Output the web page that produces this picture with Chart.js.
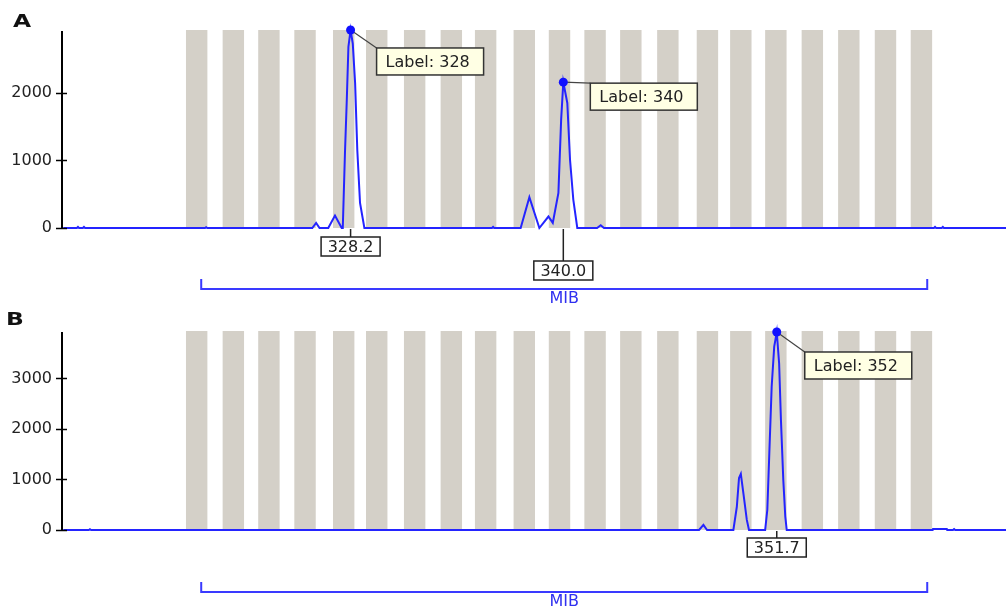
<!DOCTYPE html>
<html>
<head>
<meta charset="utf-8">
<script src="https://cdn.jsdelivr.net/npm/chart.js@4.4.0/dist/chart.umd.min.js"></script>
<style>
html, body { margin: 0; padding: 0; background: #fff; }
#wrap { position: relative; width: 1006px; height: 610px; overflow: hidden; }
.panel { position: absolute; left: 0; width: 1006px; height: 305px; }
</style>
</head>
<body>
<div id="wrap">
	<div class="panel" style="top:0"><canvas id="panel-a" width="1006" height="305"></canvas></div>
	<div class="panel" style="top:305px"><canvas id="panel-b" width="1006" height="305"></canvas></div>
</div>
<script>
// size window shown (bp)
const bpMin = 312.33;
const bpMax = 364.34;

// allelic bins of the marker (bin centres, bp)
const binCenters = [319.75, 321.77, 323.73, 325.72, 327.85, 329.67, 331.76, 333.78, 335.67, 337.80,
	339.74, 341.70, 343.67, 345.71, 347.89, 349.73, 351.66, 353.67, 355.68, 357.70, 359.68];
const binWidth = 1.18;
const markerName = 'MIB';
const markerRange = [320, 360];

// sample A electropherogram trace (bp, RFU)
const traceAx = [312.40, 313.15, 313.21, 313.27, 313.48, 313.54, 313.60, 320.21, 320.27, 320.33,
	326.12, 326.33, 326.52, 327.00, 327.37, 327.74, 327.80, 327.92, 328.02, 328.11, 328.23, 328.35,
	328.48, 328.60, 328.75, 328.99, 336.02, 336.08, 336.14, 337.60, 338.08, 338.63, 339.13, 339.37,
	339.68, 339.83, 339.95, 340.17, 340.32, 340.50, 340.72, 341.81, 342.01, 342.19, 360.37, 360.43,
	360.49, 360.80, 360.86, 360.92, 364.34];
const traceAy = [0, 0, 15, 0, 0, 15, 0, 0, 12, 0,
	0, 75, 0, 0, 185, 0, 0, 1110, 1890, 2680, 2930, 2730,
	2140, 1150, 370, 0, 0, 15, 0, 0, 457, 0, 170, 75,
	520, 1600, 2158, 1850, 1010, 420, 0, 0, 40, 0, 0, 15,
	0, 0, 15, 0, 0];

// sample B electropherogram trace (bp, RFU)
const traceBx = [312.40, 313.81, 313.87, 313.93, 347.43, 347.67, 347.87, 349.32, 349.51, 349.63,
	349.73, 349.87, 350.06, 350.18, 351.07, 351.19, 351.30, 351.43, 351.57, 351.71, 351.84, 351.94,
	352.07, 352.18, 352.26, 360.30, 360.32, 361.08, 361.10, 361.42, 361.48, 361.54, 364.34];
const traceBy = [0, 0, 15, 0, 0, 100, 0, 0, 460, 1030,
	1110, 730, 200, 0, 0, 400, 1520, 2840, 3630, 3920, 3300, 2180,
	990, 265, 0, 0, 20, 20, 0, 0, 20, 0, 0];

// called alleles and sizes
const allelesA = [328, 340];
const sizesA = ['328.2', '340.0'];
const allelesB = [352];
const sizesB = ['351.7'];

// y tick labels
const yTicksA = [0, 1000, 2000];
const yTicksB = [0, 1000, 2000, 3000];

const FONT = 'DejaVu Sans';

function findPeak(xs, ys, size) {
	let best = -1;
	xs.forEach((v, i) => {
		if (Math.abs(v - size) < 0.5 && (best < 0 || ys[i] > ys[best])) best = i;
	});
	return best;
}

const fragmentPlugin = {
	id: 'fragment',
	beforeDatasetsDraw(chart) {
		const { ctx, chartArea: a, scales: { x } } = chart;
		ctx.save();
		ctx.fillStyle = '#d4d0c8';
		binCenters.forEach(c => {
			const l = x.getPixelForValue(c - binWidth / 2);
			const r = x.getPixelForValue(c + binWidth / 2);
			ctx.fillRect(l, a.top - 2, r - l, a.bottom - a.top + 2);
		});
		ctx.restore();
	},
	afterDraw(chart, args, opts) {
		const { ctx, chartArea: a, scales: { x, y } } = chart;
		ctx.save();

		// tick marks crossing the axis
		ctx.strokeStyle = '#000';
		ctx.lineWidth = 1.5;
		y.ticks.forEach(t => {
			const py = Math.round(y.getPixelForValue(t.value)) + 0.5;
			ctx.beginPath();
			ctx.moveTo(a.left - 6, py);
			ctx.lineTo(a.left + 5, py);
			ctx.stroke();
		});

		// marker bracket
		const bx0 = x.getPixelForValue(markerRange[0]);
		const bx1 = x.getPixelForValue(markerRange[1]);
		const by = a.bottom + opts.bracketDrop;
		ctx.strokeStyle = '#3a3aff';
		ctx.lineWidth = 2;
		ctx.beginPath();
		ctx.moveTo(bx0, by - 10);
		ctx.lineTo(bx0, by);
		ctx.lineTo(bx1, by);
		ctx.lineTo(bx1, by - 10);
		ctx.stroke();
		ctx.fillStyle = '#3030f0';
		ctx.font = '16px ' + FONT;
		ctx.textAlign = 'center';
		ctx.textBaseline = 'middle';
		ctx.fillText(markerName, (bx0 + bx1) / 2, by + 10);

		const ds = chart.data.datasets[0].data;
		const xs = ds.map(p => p.x), ys = ds.map(p => p.y);

		opts.alleles.forEach((allele, i) => {
			const size = parseFloat(opts.sizes[i]);
			const k = findPeak(xs, ys, size);
			const px = x.getPixelForValue(xs[k]);
			const py = y.getPixelForValue(ys[k]);
			const c = opts.callouts[i];

			// size box below the baseline
			ctx.font = '16px ' + FONT;
			ctx.textAlign = 'center';
			ctx.textBaseline = 'middle';
			const sw = 59, sh = 19;
			const sy = a.bottom + c.sizeDrop;
			ctx.strokeStyle = '#222';
			ctx.lineWidth = 1.5;
			ctx.beginPath();
			ctx.moveTo(px, a.bottom + 1);
			ctx.lineTo(px, sy);
			ctx.stroke();
			ctx.fillStyle = '#fff';
			ctx.fillRect(px - sw / 2, sy, sw, sh);
			ctx.strokeRect(px - sw / 2, sy, sw, sh);
			ctx.fillStyle = '#222';
			ctx.fillText(opts.sizes[i], px, sy + sh / 2 + 1);

			// allele label callout
			const lx = px + c.dx, ly = py + c.dy;
			const lw = 107, lh = 27;
			ctx.strokeStyle = '#444';
			ctx.lineWidth = 1.2;
			ctx.beginPath();
			ctx.moveTo(px, py);
			ctx.lineTo(lx, ly);
			ctx.stroke();
			ctx.fillStyle = '#ffffe4';
			ctx.fillRect(lx, ly, lw, lh);
			ctx.strokeStyle = '#333';
			ctx.lineWidth = 1.5;
			ctx.strokeRect(lx, ly, lw, lh);
			ctx.fillStyle = '#222';
			ctx.textAlign = 'left';
			ctx.fillText('Label: ' + allele, lx + 9, ly + lh / 2 + 1);

			// peak marker
			ctx.fillStyle = '#1010ff';
			ctx.beginPath();
			ctx.arc(px, py, 4.5, 0, Math.PI * 2);
			ctx.fill();
		});

		// panel letter
		ctx.fillStyle = '#111';
		ctx.font = 'bold 18px ' + FONT;
		ctx.textAlign = 'left';
		ctx.textBaseline = 'alphabetic';
		ctx.translate(opts.letterX, opts.letterY);
		ctx.scale(1.3, 1);
		ctx.fillText(opts.letter, 0, 0);
		ctx.restore();
	}
};

function makePanel(id, xs, ys, yMax, yTicks, padding, fragOpts) {
	const el = document.getElementById(id);
	return new Chart(el, {
		type: 'line',
		data: {
			datasets: [{
				data: xs.map((v, i) => ({ x: v, y: ys[i] })),
				borderColor: '#2424ff',
				borderWidth: 2,
				pointRadius: 0,
				tension: 0,
				fill: false,
				clip: false
			}]
		},
		options: {
			responsive: false,
			animation: false,
			devicePixelRatio: 1,
			layout: { padding: padding },
			plugins: {
				legend: { display: false },
				tooltip: { enabled: false },
				fragment: fragOpts
			},
			scales: {
				x: { type: 'linear', min: bpMin, max: bpMax, display: false },
				y: {
					min: 0,
					max: yMax,
					afterFit: s => { s.width = 62; },
					afterBuildTicks: s => { s.ticks = yTicks.map(v => ({ value: v })); },
					grid: { drawOnChartArea: false, drawTicks: false },
					border: { color: '#000', width: 2 },
					ticks: {
						padding: 10,
						color: '#222',
						font: { family: FONT, size: 16 },
						callback: v => String(v)
					}
				}
			}
		},
		plugins: [fragmentPlugin]
	});
}

makePanel('panel-a', traceAx, traceAy, 2900, yTicksA,
	{ top: 32, bottom: 77, left: 0, right: 0 },
	{
		letter: 'A', letterX: 13, letterY: 27, bracketDrop: 61,
		alleles: allelesA, sizes: sizesA,
		callouts: [{ dx: 26, dy: 18, sizeDrop: 9 }, { dx: 27, dy: 1, sizeDrop: 33 }]
	});

makePanel('panel-b', traceBx, traceBy, 3900, yTicksB,
	{ top: 28, bottom: 80, left: 0, right: 0 },
	{
		letter: 'B', letterX: 6, letterY: 20, bracketDrop: 62,
		alleles: allelesB, sizes: sizesB,
		callouts: [{ dx: 28, dy: 20, sizeDrop: 8 }]
	});
</script>
</body>
</html>
